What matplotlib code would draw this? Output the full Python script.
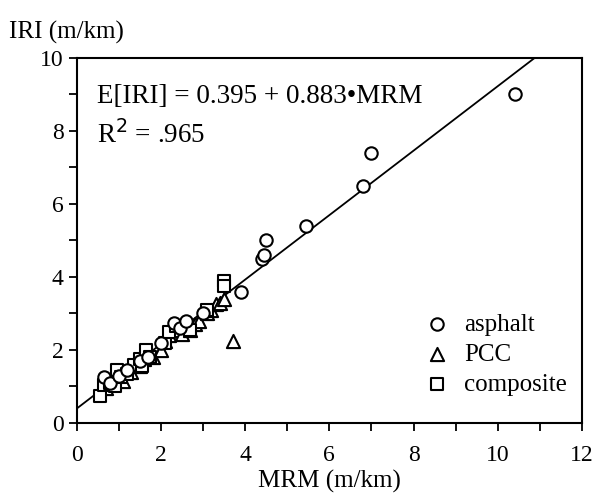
import numpy as np
import matplotlib
matplotlib.use('Agg')
import matplotlib.pyplot as plt
from matplotlib.ticker import MultipleLocator

plt.rcParams['font.family'] = 'Liberation Serif'

# regression: E[IRI] = a + b*MRM
a = 0.395
b = 0.883

asphalt_mrm = [0.65, 0.8, 1.0, 1.2, 1.5, 1.7, 2.0, 2.3, 2.45, 2.6, 3.0, 3.9, 4.4, 4.45, 4.5, 5.45, 6.8, 7.0, 10.4]
asphalt_iri = [1.25, 1.1, 1.3, 1.45, 1.7, 1.8, 2.2, 2.75, 2.6, 2.8, 3.0, 3.6, 4.5, 4.6, 5.0, 5.4, 6.5, 7.4, 9.0]

pcc_mrm = [0.7, 0.95, 1.1, 1.3, 1.5, 1.6, 1.8, 2.0, 2.1, 2.2, 2.3, 2.4, 2.5, 2.7, 2.8, 2.9, 3.1, 3.2, 3.3, 3.4, 3.5, 3.7]
pcc_iri = [0.95, 1.2, 1.15, 1.4, 1.55, 1.75, 1.8, 2.0, 2.25, 2.4, 2.7, 2.55, 2.45, 2.55, 2.7, 2.8, 3.0, 3.1, 3.25, 3.3, 3.4, 2.25]

comp_mrm = [0.55, 0.65, 0.8, 0.9, 0.95, 1.05, 1.2, 1.35, 1.5, 1.55, 1.65, 1.75, 2.1, 2.2, 2.35, 2.7, 3.1, 3.5, 3.5]
comp_iri = [0.75, 1.05, 1.1, 1.0, 1.45, 1.25, 1.35, 1.6, 1.75, 1.55, 2.0, 1.8, 2.2, 2.5, 2.65, 2.55, 3.1, 3.9, 3.75]

fig = plt.figure(figsize=(5.95, 4.95), dpi=100)
ax = fig.add_axes([0.129, 0.1455, 0.849, 0.7375])

xl = np.array([0, 12])
ax.plot(xl, a + b*xl, color='black', linewidth=1.3, zorder=1)

ax.scatter(asphalt_mrm, asphalt_iri, marker='o', s=80, facecolors='white', edgecolors='black', linewidths=1.5, label='asphalt', zorder=3)
ax.scatter(pcc_mrm, pcc_iri, marker='^', s=90, facecolors='white', edgecolors='black', linewidths=1.5, label='PCC', zorder=2)
ax.scatter(comp_mrm, comp_iri, marker='s', s=80, facecolors='white', edgecolors='black', linewidths=1.5, label='composite', zorder=2)

ax.set_xlim(0, 12)
ax.set_ylim(0, 10)
ax.xaxis.set_major_locator(MultipleLocator(2))
ax.xaxis.set_minor_locator(MultipleLocator(1))
ax.yaxis.set_major_locator(MultipleLocator(2))
ax.yaxis.set_minor_locator(MultipleLocator(1))
ax.tick_params(which='both', direction='out', length=6, width=1.3, labelsize=17)
ax.tick_params(axis='x', pad=10)
for s in ax.spines.values():
    s.set_linewidth(1.5)

ax.text(0.48, 8.95, 'E[IRI] = 0.395 + 0.883\u2022MRM', fontsize=19.5, va='center')
ax.text(0.48, 7.9, 'R$^2$ = .965', fontsize=19.5, va='center')

ax.legend(loc='upper left', frameon=False, fontsize=18, handlelength=1.0,
          handletextpad=0.6, labelspacing=0.3, borderpad=0, borderaxespad=0,
          bbox_to_anchor=(0.688, 0.30))

fig.text(0.015, 0.935, 'IRI (m/km)', fontsize=18, va='center')
ax.set_xlabel('MRM (m/km)', fontsize=18, labelpad=3)

fig.savefig('out.png', dpi=100)
